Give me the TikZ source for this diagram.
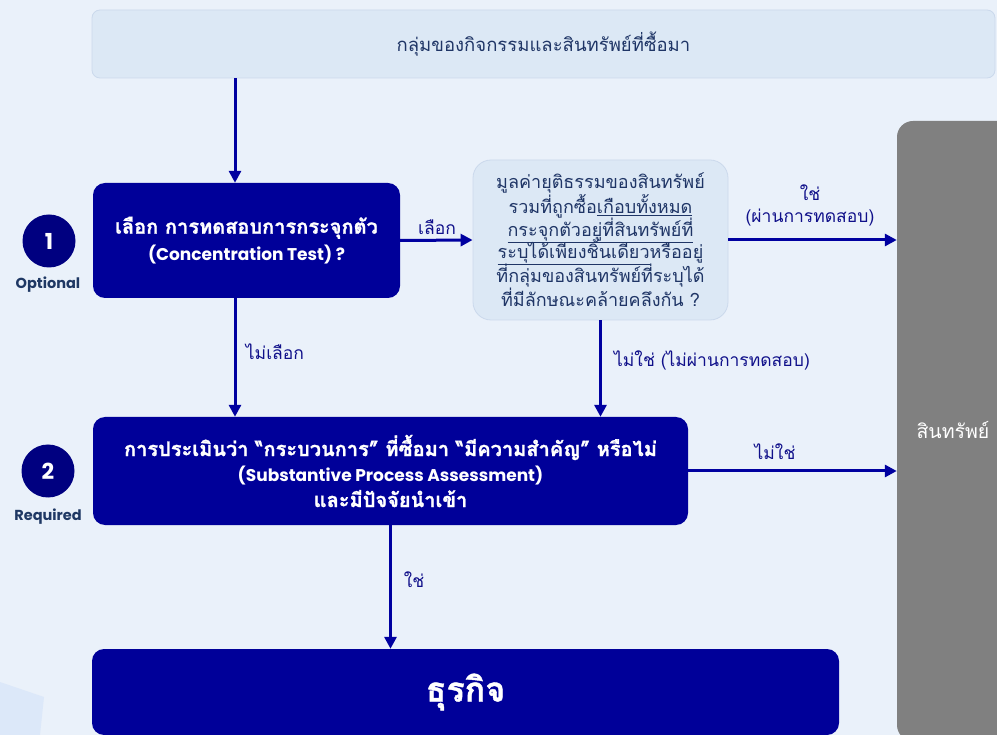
\documentclass[tikz,border=0pt]{standalone}
\usepackage{fontspec}
\setmainfont[Script=Thai, BoldFeatures={FakeBold=1.2}]{Loma}
\newfontfamily\pop{Poppins}
\usetikzlibrary{arrows.meta}
\newcommand\myul[1]{\smash{\underline{#1}}}
\definecolor{bgc}{HTML}{EAF1FA}
\definecolor{topfill}{HTML}{DCE8F5}
\definecolor{topline}{HTML}{CBD9EC}
\definecolor{darkbox}{HTML}{000099}
\definecolor{arrowc}{HTML}{0000A0}
\definecolor{labelc}{HTML}{10108A}
\definecolor{qtext}{HTML}{1F3566}
\definecolor{navyc}{HTML}{000080}
\definecolor{graybox}{HTML}{808080}
\definecolor{decoc}{HTML}{DCE8F9}
\definecolor{optc}{HTML}{1F3864}
\tikzset{
  darknode/.style={rectangle, rounded corners=12pt, fill=darkbox, text=white, align=center, font=\bfseries, inner sep=0pt},
  qnode/.style={rectangle, rounded corners=18pt, fill=topfill, draw=topline, line width=0.8pt, text=qtext, align=center, inner sep=0pt},
  topnode/.style={rectangle, rounded corners=8pt, fill=topfill, draw=topline, line width=0.8pt, text=qtext, inner sep=0pt},
  graynode/.style={rectangle, rounded corners=16pt, fill=graybox, inner sep=0pt},
  numcirc/.style={circle, fill=navyc, text=white, minimum size=53pt, inner sep=0pt, font=\pop\fontsize{22}{22}\selectfont\bfseries},
  tag/.style={text=optc, font=\pop\fontsize{14.5}{14.5}\selectfont\bfseries},
  arr/.style={draw=arrowc, line width=3pt, -{Triangle[length=12pt,width=12pt]}},
  lab/.style={text=labelc, font=\fontsize{17.5}{22}\selectfont, align=center}
}
\begin{document}
\begin{tikzpicture}[x=1pt,y=-1pt]
\useasboundingbox (0,0) rectangle (997,735);
\fill[bgc] (0,0) rectangle (997,735);
\fill[decoc] (0,682) -- (44,697) -- (40,735) -- (0,735) -- cycle;

% nodes
\node[topnode, minimum width=903pt, minimum height=68pt, font=\fontsize{18.5}{20}\selectfont] (top) at (543.5,44) {กลุ่มของกิจกรรมและสินทรัพย์ที่ซื้อมา};

\node[graynode, minimum width=120pt, minimum height=620pt] (gray) at (957,431) {};
\node[text=white, font=\fontsize{19.5}{20}\selectfont] (graylab) at (953,430) {สินทรัพย์};

\node[darknode, minimum width=307pt, minimum height=115pt, font=\fontsize{20}{27}\selectfont\bfseries] (b1) at (246.5,240.5) {เลือก การทดสอบการกระจุกตัว\\{\pop\fontsize{17}{27}\selectfont\bfseries (Concentration Test) ?}};

\node[qnode, minimum width=255pt, minimum height=160pt, font=\fontsize{18}{22.4}\selectfont] (q) at (600.5,240) {มูลค่ายุติธรรมของสินทรัพย์\\รวมที่ถูกซื้อ\myul{เกือบทั้งหมด}\\\myul{กระจุกตัวอยู่ที่สินทรัพย์ที่}\\\myul{ระบุได้เพียงชิ้นเดียว}หรืออยู่\\ที่กลุ่มของสินทรัพย์ที่ระบุได้\\ที่มีลักษณะคล้ายคลึงกัน ?};

\node[darknode, minimum width=595pt, minimum height=108pt, font=\fontsize{20}{25.5}\selectfont\bfseries] (b2) at (390.5,471) {การประเมินว่า “กระบวนการ” ที่ซื้อมา “มีความสำคัญ” หรือไม่\\{\pop\fontsize{17}{25.5}\selectfont\bfseries (Substantive Process Assessment)}\\และมีปัจจัยนำเข้า};

\node[darknode, minimum width=747pt, minimum height=86pt, font=\fontsize{34}{36}\selectfont\bfseries] (bot) at (465.5,692) {ธุรกิจ};

\node[numcirc] (n1) at (49,241) {1};
\node[tag] (opt) at (48,285) {Optional};
\node[numcirc] (n2) at (48,471) {2};
\node[tag] (req) at (48,517) {Required};

% connectors
\coordinate (cx1) at (235,0);
\draw[arr] (top.south -| cx1) -- (b1.north -| cx1);
\draw[arr] (b1.east) -- (q.west);
\draw[arr] (q.east) -- (gray.west |- q.east);
\draw[arr] (b1.south -| cx1) -- (b2.north -| cx1);
\draw[arr] (q.south) -- (q.south |- b2.north);
\draw[arr] (b2.east) -- (gray.west |- b2.east);
\draw[arr] (b2.south) -- (b2.south |- bot.north);

% labels
\node[lab] (l1) at (437,227) {เลือก};
\node[lab] (l2) at (810,205) {ใช่\\(ผ่านการทดสอบ)};
\node[lab] (l3) at (275,352) {ไม่เลือก};
\node[lab] (l4) at (712,360) {ไม่ใช่ (ไม่ผ่านการทดสอบ)};
\node[lab] (l5) at (775,452) {ไม่ใช่};
\node[lab] (l6) at (414,580) {ใช่};
\end{tikzpicture}
\end{document}
